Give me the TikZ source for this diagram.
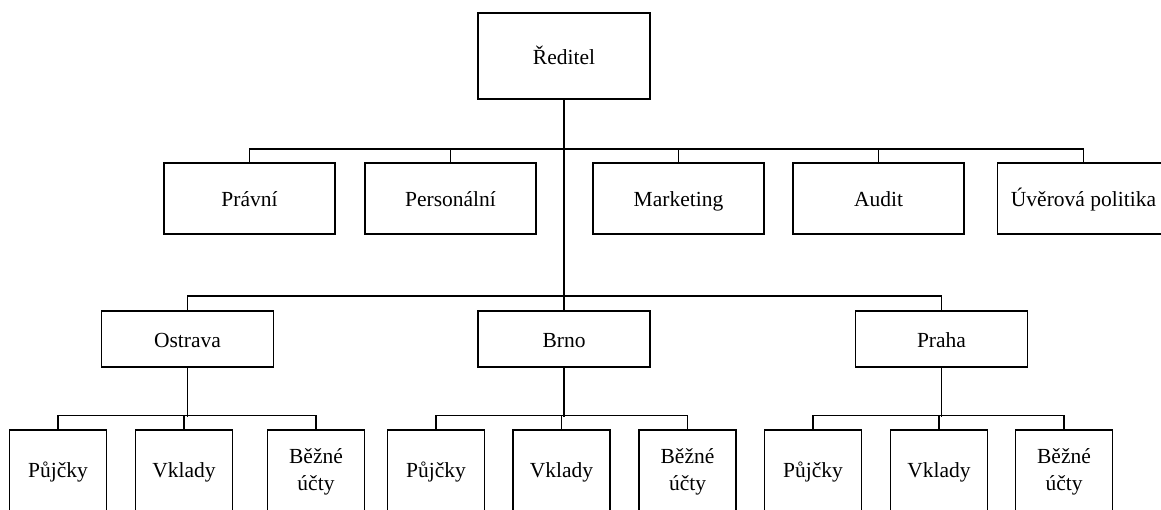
\documentclass[tikz,border=0pt]{standalone}
\usepackage{fontspec}
\setmainfont{Liberation Serif}
\begin{document}
\begin{tikzpicture}[x=1pt,y=-1pt,
  box/.style={draw, line width=1.3pt, inner sep=0pt, font=\fontsize{21.5}{27}\selectfont, align=center},
  oneline/.style={text height=17pt, text depth=1pt},
  topbox/.style={box, oneline, minimum width=172, minimum height=86},
  deptbox/.style={box, oneline, minimum width=171, minimum height=71},
  citybox/.style={box, oneline, minimum width=172, minimum height=56},
  leafbox/.style={box, minimum width=97, minimum height=84},
  conn/.style={line width=1.3pt, line cap=rect},
  trunk/.style={line width=1.8pt}]
\useasboundingbox (0,0) rectangle (1161,509);
\clip (0,0) rectangle (1161,509);
% top
\node[topbox] (red) at (564,56) {Ředitel};
% departments
\node[deptbox] (pra) at (249.5,198.5) {Právní};
\node[deptbox] (per) at (450.5,198.5) {Personální};
\node[deptbox] (mar) at (678.5,198.5) {Marketing};
\node[deptbox] (aud) at (878.5,198.5) {Audit};
\node[deptbox, minimum width=172] (uve) at (1083.5,198.5) {Úvěrová politika};
% cities
\node[citybox] (ost) at (187.5,339) {Ostrava};
\node[citybox] (brn) at (564,339) {Brno};
\node[citybox] (pha) at (941.5,339) {Praha};
% leaves
\node[leafbox] (op) at (58,472) {Půjčky};
\node[leafbox] (ov) at (184,472) {Vklady};
\node[leafbox] (ob) at (316,472) {Běžné\\účty};
\node[leafbox] (bp) at (436,472) {Půjčky};
\node[leafbox] (bv) at (561.5,472) {Vklady};
\node[leafbox] (bb) at (687.5,472) {Běžné\\účty};
\node[leafbox] (pp) at (813,472) {Půjčky};
\node[leafbox] (pv) at (939,472) {Vklady};
\node[leafbox] (pb) at (1064,472) {Běžné\\účty};
% connectors
\coordinate (bus1) at (564,149);
\coordinate (bus2) at (564,296);
\draw[conn, trunk] (red.south) -- (brn.north);
\draw[conn] (pra.north) |- (bus1) -| (uve.north);
\foreach \n in {per,mar,aud} \draw[conn] (\n.north) -- (\n.north |- bus1);
\draw[conn] (ost.north) |- (bus2) -| (pha.north);
% sub-buses
\draw[conn, trunk] (ost.south) -- ++(0,48) coordinate (so);
\draw[conn] (op.north) |- (so) -| (ob.north);
\draw[conn] (ov.north) -- (ov.north |- so);
\draw[conn, trunk] (brn.south) -- ++(0,48) coordinate (sb);
\draw[conn] (bp.north) |- (sb) -| (bb.north);
\draw[conn] (bv.north) -- (bv.north |- sb);
\draw[conn, trunk] (pha.south) -- ++(0,48) coordinate (sp);
\draw[conn] (pp.north) |- (sp) -| (pb.north);
\draw[conn] (pv.north) -- (pv.north |- sp);
\end{tikzpicture}
\end{document}
